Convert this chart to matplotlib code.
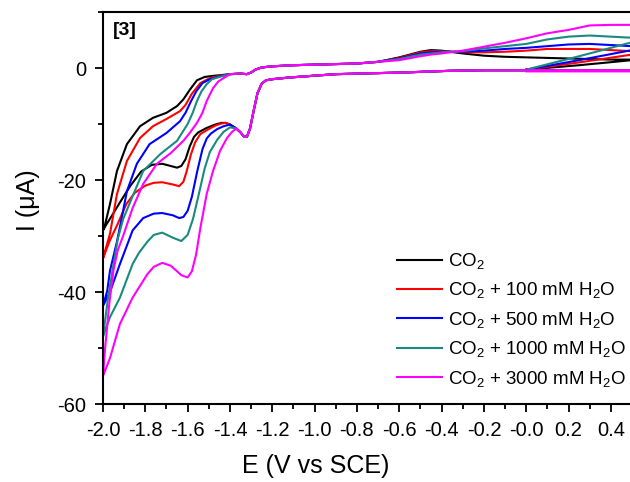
import matplotlib
matplotlib.use("Agg")
import matplotlib.pyplot as plt
import numpy as np
from matplotlib.ticker import MultipleLocator

plt.rcParams['font.family'] = ['Liberation Sans', 'DejaVu Sans']
plt.rcParams['mathtext.default'] = 'regular'
plt.rcParams['axes.unicode_minus'] = False

labels = ['CO$_2$', 'CO$_2$ + 100 mM H$_2$O', 'CO$_2$ + 500 mM H$_2$O',
          'CO$_2$ + 1000 mM H$_2$O', 'CO$_2$ + 3000 mM H$_2$O']
colors = ['black', 'red', 'blue', '#1a8a80', 'magenta']

# first sweep 0.0 -> 0.5 V
E_start = [0.0, 0.25, 0.5]
I_start = [[-0.3, 0.5, 1.4],
           [-0.3, 1.0, 2.4],
           [-0.3, 1.4, 3.2],
           [-0.3, 2.1, 4.6],
           [-0.6, -0.6, -0.6]]

# cathodic sweep, shared part (0.5 -> -1.37 V)
E_cath_common = [0.5, 0.2, 0.0, -0.2, -0.36, -0.58, -0.9, -1.12, -1.2, -1.23, -1.25, -1.27, -1.29, -1.305, -1.32, -1.335, -1.35, -1.37]
I_cath_common = [-0.4, -0.4, -0.4, -0.4, -0.5, -0.8, -1.1, -1.7, -2.0, -2.2, -2.8, -4.5, -8.0, -10.8, -12.3, -12.2, -11.5, -10.8]

# cathodic sweep, per curve (-1.37 -> -2.0 V)
black_Ec = [-1.40, -1.42, -1.44, -1.47, -1.51, -1.55, -1.57, -1.59, -1.61, -1.63, -1.65, -1.68, -1.72, -1.77, -1.82, -1.87, -1.92, -1.96, -1.985, -2.0]
black_Ic = [-10.1, -9.8, -9.8, -10.1, -10.7, -11.5, -12.3, -14.0, -16.3, -17.5, -17.8, -17.5, -17.1, -17.3, -18.5, -21.0, -24.0, -26.5, -28.0, -29.0]
red_Ec = [-1.40, -1.42, -1.44, -1.47, -1.50, -1.54, -1.565, -1.585, -1.605, -1.62, -1.64, -1.67, -1.72, -1.76, -1.80, -1.85, -1.89, -1.93, -1.97, -2.0]
red_Ic = [-10.1, -9.8, -9.9, -10.3, -10.9, -11.8, -13.3, -15.5, -18.5, -20.3, -21.1, -20.8, -20.4, -20.5, -21.0, -22.3, -24.3, -27.8, -31.0, -34.0]
blue_Ec = [-1.40, -1.43, -1.46, -1.49, -1.51, -1.53, -1.555, -1.58, -1.60, -1.62, -1.64, -1.67, -1.72, -1.76, -1.81, -1.86, -1.92, -1.967, -2.0]
blue_Ic = [-10.1, -10.4, -10.9, -11.7, -12.6, -14.5, -18.5, -23.0, -25.5, -26.6, -26.8, -26.3, -25.9, -26.0, -26.8, -29.0, -35.0, -40.0, -42.5]
teal_Ec = [-1.40, -1.43, -1.46, -1.495, -1.52, -1.55, -1.575, -1.60, -1.63, -1.67, -1.72, -1.76, -1.79, -1.83, -1.86, -1.92, -1.967, -2.0]
teal_Ic = [-10.6, -11.4, -12.8, -15.0, -18.0, -23.0, -27.0, -29.8, -30.9, -30.3, -29.4, -29.8, -31.0, -33.0, -35.0, -41.0, -44.5, -48.0]
mag_Ec = [-1.39, -1.414, -1.447, -1.48, -1.51, -1.54, -1.56, -1.58, -1.60, -1.63, -1.65, -1.68, -1.72, -1.76, -1.79, -1.86, -1.92, -1.967, -2.0]
mag_Ic = [-11.4, -12.5, -14.8, -18.4, -22.5, -28.6, -33.3, -36.3, -37.4, -37.0, -36.3, -35.3, -34.8, -35.5, -36.8, -41.0, -45.7, -51.8, -55.0]

# anodic sweep, per curve (-2.0 -> -1.45 V)
black_Ea = [-2.0, -1.99, -1.967, -1.934, -1.887, -1.825, -1.764, -1.70, -1.65, -1.62, -1.59, -1.556, -1.52, -1.48, -1.45]
black_Ia = [-29.0, -27.9, -24.3, -18.4, -13.6, -10.4, -8.9, -8.0, -6.8, -5.6, -3.9, -2.2, -1.6, -1.4, -1.3]
red_Ea = [-2.0, -1.967, -1.934, -1.887, -1.825, -1.764, -1.70, -1.636, -1.61, -1.58, -1.54, -1.495, -1.45]
red_Ia = [-34.0, -29.6, -22.5, -16.6, -12.5, -10.4, -9.1, -7.7, -6.6, -4.6, -2.7, -1.8, -1.4]
blue_Ea = [-2.0, -1.98, -1.967, -1.934, -1.91, -1.887, -1.84, -1.78, -1.70, -1.636, -1.61, -1.585, -1.56, -1.53, -1.495, -1.45]
blue_Ia = [-42.5, -39.8, -36.2, -31.0, -26.5, -22.0, -17.1, -13.6, -11.6, -9.5, -8.0, -6.0, -4.2, -2.7, -2.0, -1.5]
teal_Ea = [-2.0, -1.976, -1.95, -1.93, -1.905, -1.87, -1.81, -1.73, -1.65, -1.60, -1.576, -1.556, -1.535, -1.51, -1.485, -1.45]
teal_Ia = [-48.0, -41.0, -35.0, -30.5, -27.0, -23.8, -18.4, -15.4, -13.0, -10.0, -8.0, -5.9, -4.2, -2.9, -2.0, -1.6]
mag_Ea = [-2.0, -1.99, -1.97, -1.95, -1.93, -1.905, -1.86, -1.81, -1.745, -1.68, -1.62, -1.59, -1.556, -1.53, -1.51, -1.48, -1.455, -1.43]
mag_Ia = [-55.0, -50.0, -42.0, -36.0, -32.5, -30.0, -25.0, -20.7, -17.1, -15.2, -13.0, -11.6, -9.8, -8.0, -5.9, -3.6, -2.4, -1.8]

# anodic sweep, shared part (-1.40 -> -0.7 V)
E_an_common = [-1.40, -1.35, -1.32, -1.30, -1.28, -1.25, -1.2, -1.1, -1.0, -0.8, -0.7]
I_an_common = [-1.1, -1.0, -1.1, -0.8, -0.3, 0.1, 0.3, 0.5, 0.6, 0.8, 1.1]

# anodic sweep, per curve (-0.6 -> 0.5 V)
E_tail = [-0.6, -0.5, -0.45, -0.4, -0.3, -0.2, -0.1, 0.0, 0.1, 0.2, 0.3, 0.4, 0.5]
I_tail = [[1.9, 2.9, 3.2, 3.1, 2.6, 2.2, 2.0, 1.9, 1.8, 1.7, 1.6, 1.5, 1.5],
          [1.8, 2.8, 3.0, 3.0, 2.8, 2.8, 2.9, 3.1, 3.4, 3.4, 3.4, 3.2, 3.0],
          [1.7, 2.6, 2.8, 2.9, 2.9, 3.1, 3.4, 3.6, 3.9, 4.2, 4.3, 4.1, 3.9],
          [1.6, 2.4, 2.6, 2.8, 3.0, 3.5, 3.9, 4.3, 5.1, 5.6, 5.8, 5.6, 5.4],
          [1.4, 2.1, 2.4, 2.6, 3.1, 3.8, 4.5, 5.3, 6.2, 6.8, 7.6, 7.7, 7.7]]

cath = [(black_Ec, black_Ic), (red_Ec, red_Ic), (blue_Ec, blue_Ic), (teal_Ec, teal_Ic), (mag_Ec, mag_Ic)]
anod = [(black_Ea, black_Ia), (red_Ea, red_Ia), (blue_Ea, blue_Ia), (teal_Ea, teal_Ia), (mag_Ea, mag_Ia)]

fig = plt.figure(figsize=(6.3, 4.82), dpi=100)
ax = fig.add_axes([103 / 630, 78 / 482, 529 / 630, 392 / 482])

for k in range(5):
    E = E_start + E_cath_common + cath[k][0] + anod[k][0] + E_an_common + E_tail
    I = I_start[k] + I_cath_common + cath[k][1] + anod[k][1] + I_an_common + I_tail[k]
    ax.plot(E, I, color=colors[k], lw=1.5, label=labels[k], solid_joinstyle='round')

ax.set_xlim(-2.0, 0.5)
ax.set_ylim(-60, 10)
ax.xaxis.set_minor_locator(MultipleLocator(0.1))
ax.yaxis.set_major_locator(MultipleLocator(20))
ax.yaxis.set_minor_locator(MultipleLocator(10))
ax.set_xticks(np.arange(-2.0, 0.41, 0.2))
ax.set_xticklabels(['%.1f' % v for v in np.arange(-2.0, 0.41, 0.2)])
ax.tick_params(which='major', direction='out', length=6, width=1.3, labelsize=14.5)
ax.tick_params(which='minor', direction='out', length=3.5, width=1.3)
ax.tick_params(axis='x', which='major', pad=6)
ax.tick_params(axis='y', which='major', pad=6)
for s in ax.spines.values():
    s.set_linewidth(1.5)

ax.set_xlabel('E (V vs SCE)', fontsize=18)
ax.xaxis.set_label_coords(0.403, -0.128)
ax.set_ylabel('I (μA)', fontsize=18)
ax.yaxis.set_label_coords(-0.119, 0.52)
ax.text(0.018, 0.975, '[3]', transform=ax.transAxes, fontsize=14, fontweight='bold', va='top')

ax.legend(loc='upper left', bbox_to_anchor=(0.556, 0.39), frameon=False, fontsize=13.5,
          handlelength=2.4, handletextpad=0.3, labelspacing=0.5, borderpad=0, borderaxespad=0)

fig.savefig('out.png', dpi=100)
